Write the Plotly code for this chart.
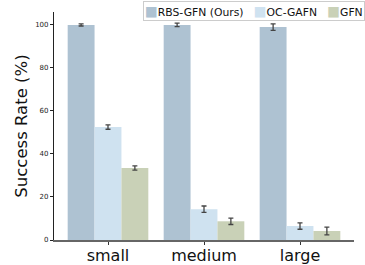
import plotly.graph_objects as go

categories = ["small", "medium", "large"]
rbs = [100, 100, 99]
rbs_err = [0.5, 0.8, 1.5]
oc = [52.5, 14.3, 6.5]
oc_err = [1.0, 1.5, 1.5]
gfn = [33.5, 8.7, 4.2]
gfn_err = [1.0, 1.5, 1.8]
yticks = [0, 20, 40, 60, 80, 100]

series = [
    ("RBS-GFN (Ours)", rbs, rbs_err, "#aec2d2"),
    ("OC-GAFN", oc, oc_err, "#cfe2f0"),
    ("GFN", gfn, gfn_err, "#c9d1b7"),
]

fig = go.Figure()
for name, vals, errs, col in series:
    fig.add_trace(go.Bar(
        x=categories, y=vals, name=name, marker=dict(color=col, line=dict(width=0)),
        error_y=dict(type="data", array=errs, visible=True, color="#444444", thickness=1.3, width=2.5),
        showlegend=False,
    ))

legend_text = "&nbsp;&nbsp;&nbsp;".join(
    f"<span style='color:{col};font-size:13.5px'>■</span>{name}" for name, _, _, col in series
)
fig.add_annotation(
    text=legend_text, xref="paper", yref="paper", x=1.035, y=1.05,
    xanchor="right", yanchor="top", showarrow=False,
    font=dict(size=10.8, color="#111111", family="DejaVu Sans"),
    bordercolor="#cccccc", borderwidth=1, borderpad=1, bgcolor="white",
)

fig.update_layout(
    width=365, height=265,
    margin=dict(l=54, r=11, t=12, b=25),
    paper_bgcolor="white", plot_bgcolor="white",
    barmode="group", bargap=0.16, bargroupgap=0,
    font=dict(family="DejaVu Sans", color="#111111"),
    showlegend=False,
)
fig.update_xaxes(range=[-0.5625, 2.5625], showline=True, linecolor="#666666", linewidth=1.6,
                 ticks="outside", ticklen=3, tickcolor="#333333", automargin=False,
                 ticklabelstandoff=-3,
                 tickfont=dict(size=16, color="#111111"), showgrid=False, zeroline=False)
fig.update_yaxes(range=[0, 106], showline=True, linecolor="#222222", linewidth=1.2,
                 tickvals=yticks, ticks="outside", ticklen=3, tickcolor="#222222", automargin=False,
                 tickfont=dict(size=7, color="#222222"), showgrid=False, zeroline=False,
                 title=dict(text="Success Rate (%)", font=dict(size=16.5, color="#111111"), standoff=3))

fig.write_html("out.html", config={"displayModeBar": False},
               post_script="document.body.style.margin='0';")
